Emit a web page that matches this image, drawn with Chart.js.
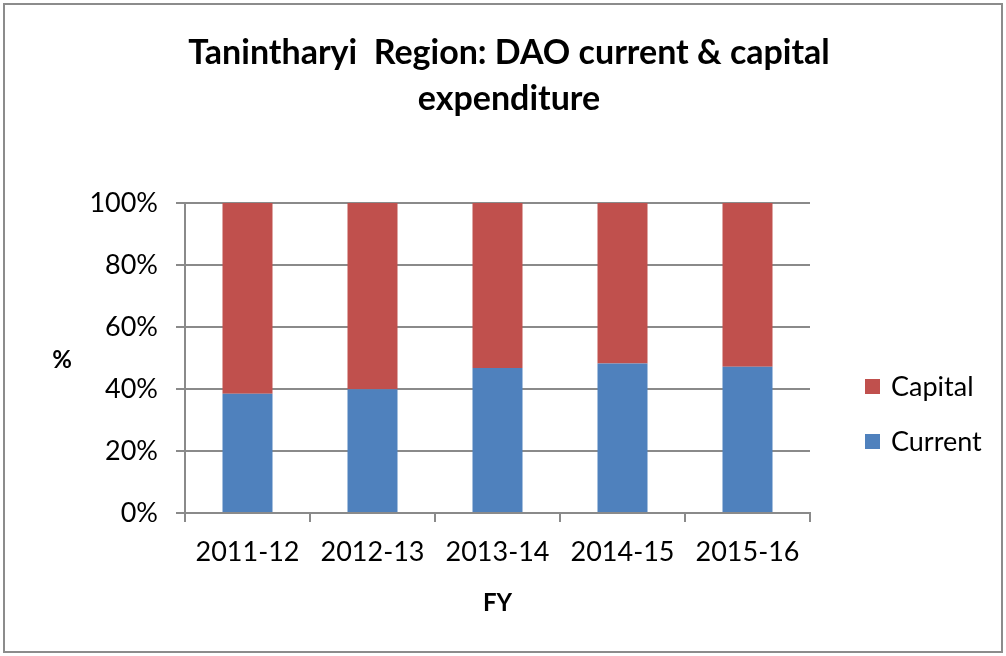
<!DOCTYPE html>
<html>
<head>
<meta charset="utf-8">
<script src="https://cdn.jsdelivr.net/npm/chart.js@4.4.0/dist/chart.umd.min.js"></script>
<style>
html, body { margin: 0; padding: 0; background: #fff; }
#wrap { width: 1006px; height: 656px; }
</style>
</head>
<body>
<div id="wrap"><canvas id="chart" width="1006" height="656"></canvas></div>
<script>
// values (share of DAO expenditure, %)
var years = ["2011-12", "2012-13", "2013-14", "2014-15", "2015-16"];
var currentShare = [38.5, 39.9, 46.8, 48.2, 47.2];
var capitalShare = [61.5, 60.1, 53.2, 51.8, 52.8];
var yTickValues = [0, 20, 40, 60, 80, 100];
var titleLines = ["Tanintharyi  Region: DAO current & capital", "expenditure"];

var gridGray = "#8a8a8a";
var fontName = "Lato, 'Open Sans', sans-serif";

// outer frame round the whole chart
var framePlugin = {
    id: "frame",
    afterDraw: function(chart) {
        var ctx = chart.ctx;
        ctx.save();
        ctx.strokeStyle = "#8c8c8c";
        ctx.lineWidth = 2;
        ctx.strokeRect(4, 4, 998, 648);
        ctx.restore();
    }
};

// title centred on the whole canvas, horizontal "%" label, legend on the right
var sideTextPlugin = {
    id: "sideText",
    afterDraw: function(chart) {
        var ctx = chart.ctx;
        ctx.save();
        ctx.fillStyle = "#000";
        ctx.textAlign = "center";
        ctx.textBaseline = "middle";
        ctx.font = "bold 34px " + fontName;
        ctx.fillText(titleLines[0], 509, 53);
        ctx.fillText(titleLines[1], 509, 99);

        ctx.font = "bold 24px " + fontName;
        ctx.fillText("%", 62, 360);

        // legend, capital on top like the original
        var order = [1, 0];
        var rows = [386, 441];
        ctx.font = "27px " + fontName;
        ctx.textAlign = "left";
        order.forEach(function(di, i) {
            var ds = chart.data.datasets[di];
            ctx.fillStyle = ds.backgroundColor;
            ctx.fillRect(865, rows[i] - 7, 15, 15);
            ctx.fillStyle = "#000";
            ctx.fillText(ds.label, 891, rows[i] + 1);
        });
        ctx.restore();
    }
};

var ctx = document.getElementById("chart");
new Chart(ctx, {
    type: "bar",
    data: {
        labels: years,
        datasets: [
            {
                label: "Current",
                data: currentShare,
                backgroundColor: "#4F81BD",
                barPercentage: 0.4,
                categoryPercentage: 1.0
            },
            {
                label: "Capital",
                data: capitalShare,
                backgroundColor: "#C0504D",
                barPercentage: 0.4,
                categoryPercentage: 1.0
            }
        ]
    },
    options: {
        responsive: false,
        animation: false,
        events: [],
        layout: {
            padding: { left: 0, right: 196, top: 203, bottom: 0 }
        },
        plugins: {
            legend: { display: false },
            tooltip: { enabled: false },
            title: { display: false }
        },
        scales: {
            x: {
                stacked: true,
                afterFit: function(s) { s.height = 143; },
                grid: {
                    offset: true,
                    drawOnChartArea: false,
                    color: gridGray,
                    lineWidth: 2,
                    tickLength: 9
                },
                border: { color: gridGray, width: 2 },
                ticks: {
                    color: "#000",
                    padding: 14,
                    font: { family: fontName, size: 27 }
                },
                title: {
                    display: true,
                    text: "FY",
                    color: "#000",
                    font: { family: fontName, size: 24, weight: "bold", lineHeight: 1.2 },
                    padding: { top: 0, bottom: 38 }
                }
            },
            y: {
                stacked: true,
                min: 0,
                max: 100,
                afterFit: function(s) { s.width = 185; },
                afterBuildTicks: function(s) {
                    s.ticks = yTickValues.map(function(v) { return { value: v }; });
                },
                grid: {
                    color: gridGray,
                    lineWidth: 2,
                    tickLength: 9
                },
                border: { color: gridGray, width: 2 },
                ticks: {
                    color: "#000",
                    padding: 18,
                    font: { family: fontName, size: 27 },
                    callback: function(v) { return v + "%"; }
                }
            }
        }
    },
    plugins: [framePlugin, sideTextPlugin]
});
</script>
</body>
</html>
